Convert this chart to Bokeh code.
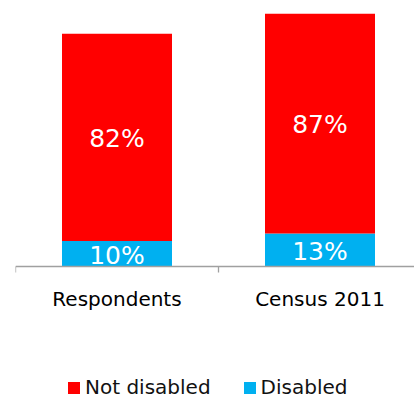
from bokeh.plotting import figure
from bokeh.models import Range1d, LinearAxis, FixedTicker, ColumnDataSource, Legend, LegendItem
from bokeh.core.properties import value
from bokeh.embed import file_html
from bokeh.resources import INLINE

categories = ["Respondents", "Census 2011"]
disabled = [10, 13]
not_disabled = [82, 87]
disabled_labels = ["10%", "13%"]
not_disabled_labels = ["82%", "87%"]
series_names = ["Not disabled", "Disabled"]
colors = {"Not disabled": "#FF0000", "Disabled": "#00B0F0"}

FONT = "DejaVu Sans"

xpos = [i + 0.5 for i in range(len(categories))]
src = ColumnDataSource(dict(
    x=xpos,
    dis=disabled,
    nd_bottom=disabled,
    nd_top=[d + n for d, n in zip(disabled, not_disabled)],
    dis_mid=[d / 2 for d in disabled],
    nd_mid=[d + n / 2 for d, n in zip(disabled, not_disabled)],
    dis_lab=disabled_labels,
    nd_lab=not_disabled_labels,
))

p = figure(width=414, height=400, output_backend="svg", toolbar_location=None,
           x_range=Range1d(0, 399 / 203), y_range=Range1d(-53.1, 100),
           x_axis_location=None, y_axis_location=None,
           min_border_left=15, min_border_right=0, min_border_top=13, min_border_bottom=0)
p.outline_line_color = None
p.xgrid.visible = False
p.ygrid.visible = False
p.background_fill_color = "white"

bw = 110 / 203
r_dis = p.vbar(x="x", bottom=0, top="dis", width=bw, source=src,
               fill_color=colors["Disabled"], line_color=None)
r_nd = p.vbar(x="x", bottom="nd_bottom", top="nd_top", width=bw, source=src,
              fill_color=colors["Not disabled"], line_color=None)

p.text(x="x", y="dis_mid", text="dis_lab", source=src, text_color="white",
       text_font=value(FONT), text_font_size="25px", text_align="center",
       text_baseline="middle", y_offset=2)
p.text(x="x", y="nd_mid", text="nd_lab", source=src, text_color="white",
       text_font=value(FONT), text_font_size="25px", text_align="center",
       text_baseline="middle", y_offset=1)

# axis line with ticks at category boundaries
tick_axis = LinearAxis(ticker=FixedTicker(ticks=list(range(len(categories) + 1))),
                       fixed_location=0)
tick_axis.axis_line_color = "#A0A0A0"
tick_axis.axis_line_width = 1.3
tick_axis.major_tick_line_color = "#A0A0A0"
tick_axis.major_tick_line_width = 1.3
tick_axis.major_tick_out = 6
tick_axis.major_tick_in = 0
tick_axis.minor_tick_out = 0
tick_axis.minor_tick_in = 0
tick_axis.major_label_text_font_size = "0px"
tick_axis.major_label_text_alpha = 0
p.add_layout(tick_axis, "below")

# category labels
lab_axis = LinearAxis(ticker=FixedTicker(ticks=xpos), fixed_location=0,
                      major_label_overrides={x: c for x, c in zip(xpos, categories)})
lab_axis.axis_line_color = None
lab_axis.major_tick_line_color = None
lab_axis.minor_tick_line_color = None
lab_axis.major_tick_out = 0
lab_axis.major_tick_in = 0
lab_axis.major_label_standoff = 21
lab_axis.major_label_text_font = FONT
lab_axis.major_label_text_font_size = "20px"
lab_axis.major_label_text_color = "black"
p.add_layout(lab_axis, "below")

legend = Legend(items=[LegendItem(label=series_names[0], renderers=[r_nd]),
                       LegendItem(label=series_names[1], renderers=[r_dis])],
                orientation="horizontal", location=(51, 1))
legend.glyph_width = 15
legend.glyph_height = 15
legend.label_standoff = 4
legend.spacing = 31
legend.padding = 0
legend.margin = 0
legend.border_line_color = None
legend.background_fill_alpha = 0
legend.label_text_font = FONT
legend.label_text_font_size = "20px"
legend.label_text_color = "#111111"
legend.label_height = 15
p.add_layout(legend, "center")

open("out.html", "w").write(file_html(p, INLINE))
